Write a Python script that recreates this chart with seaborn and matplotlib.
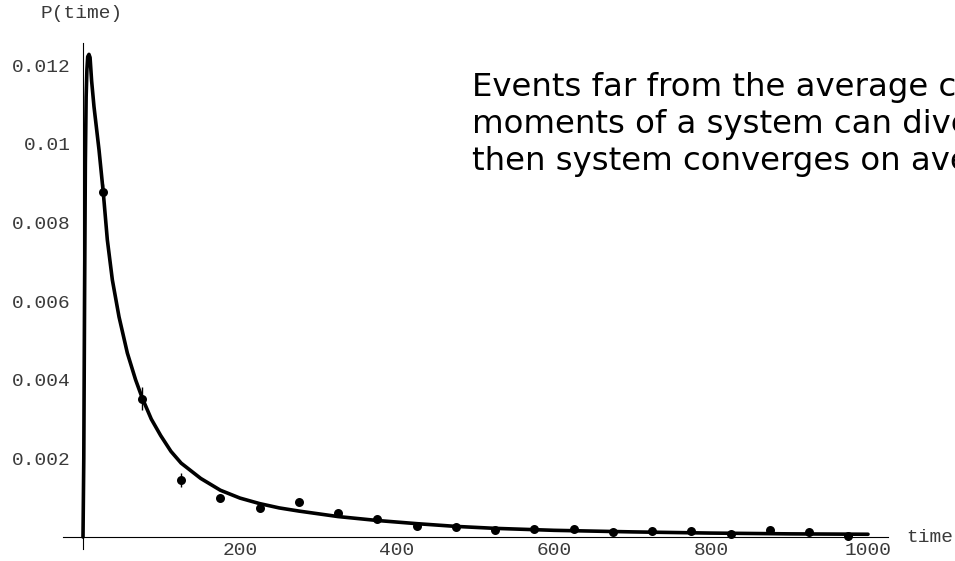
import matplotlib
matplotlib.use("Agg")
import matplotlib.pyplot as plt
import matplotlib.ticker as mticker
import seaborn as sns

# measured points (bin centres) with small error bars
bin_time = [25, 75, 125, 175, 225, 275, 325, 375, 425, 475,
            525, 575, 625, 675, 725, 775, 825, 875, 925, 975]
bin_prob = [0.00877, 0.00352, 0.00145, 0.00100, 0.00073, 0.00090, 0.00060, 0.00046, 0.00029, 0.00025,
            0.00018, 0.00020, 0.00020, 0.00013, 0.00015, 0.00015, 0.00008, 0.00018, 0.00013, 0.00003]
bin_err = [0.00020, 0.00030, 0.00018, 0.00009, 0.00008, 0.00007, 0.00006, 0.00005, 0.00004, 0.00004,
           0.00003, 0.00003, 0.00003, 0.00003, 0.00003, 0.00003, 0.00003, 0.00003, 0.00003, 0.00003]

# fitted curve
curve_time = [0, 1, 2, 3, 4, 5, 6, 7.6, 9, 11, 14, 20.4, 25.9, 31, 37.4, 45.9, 56.5, 67, 75.6,
              87, 99, 112, 125, 150, 175, 200, 225, 250, 275, 325, 375, 425, 475, 525, 600, 700,
              800, 900, 1000]
curve_prob = [0, 0.0020, 0.0060, 0.0095, 0.0112, 0.0119, 0.01222, 0.01228, 0.0122, 0.0116, 0.01095,
              0.00985, 0.00875, 0.00756, 0.00654, 0.00560, 0.00468, 0.00400, 0.00353,
              0.00300, 0.00258, 0.00218, 0.00188, 0.00149, 0.00119, 0.00099, 0.00085, 0.00074,
              0.00066, 0.00052, 0.00042, 0.00034, 0.00027, 0.00022, 0.00017, 0.00013, 0.00010,
              0.00008, 0.00007]

x_major = [200, 400, 600, 800, 1000]
x_labels = ["200", "400", "600", "800", "1000"]
y_major = [0.002, 0.004, 0.006, 0.008, 0.010, 0.012]
y_labels = ["0.002", "0.004", "0.006", "0.008", "0.01", "0.012"]

note_lines = ["Events far from the average can dominate",
              "moments of a system can diverge",
              "then system converges on average"]

sns.set_theme(style="white")
plt.rcParams["font.family"] = ["Liberation Mono", "DejaVu Sans Mono"]
tick_col = "#3a3a3a"

fig = plt.figure(figsize=(9.55, 5.61), dpi=100)
ax = fig.add_axes([0.06636, 0.0214, 0.8631, 0.902])
ax.set_xlim(-25, 1025)
ax.set_ylim(-0.000305, 0.01257)

# Mathematica style axes crossing at the origin
for side in ["top", "right"]:
    ax.spines[side].set_visible(False)
ax.spines["left"].set_position(("data", 0))
ax.spines["bottom"].set_position(("data", 0))
for side in ["left", "bottom"]:
    ax.spines[side].set_color("black")
    ax.spines[side].set_linewidth(0.8)

ax.set_xticks(x_major)
ax.set_xticklabels(x_labels)
ax.set_yticks(y_major)
ax.set_yticklabels(y_labels)
ax.xaxis.set_minor_locator(mticker.MultipleLocator(40))
ax.yaxis.set_minor_locator(mticker.MultipleLocator(0.0004))
ax.tick_params(axis="x", which="both", direction="in", colors="black", labelcolor=tick_col,
               labelsize=14, pad=3.5, width=0.8)
ax.tick_params(axis="y", which="both", direction="in", colors="black", labelcolor=tick_col,
               labelsize=14, pad=9, width=0.8)
ax.tick_params(which="major", length=5)
ax.tick_params(which="minor", length=3)
ax.grid(False)

ax.errorbar(bin_time, bin_prob, yerr=bin_err, fmt="none", ecolor="black", elinewidth=1, zorder=2)
line_ax = sns.lineplot(x=curve_time, y=curve_prob, ax=ax, color="black", linewidth=2.6, zorder=3)
line_ax.lines[-1].set_solid_joinstyle("round")
sns.scatterplot(x=bin_time, y=bin_prob, ax=ax, s=42, color="black", edgecolor="black",
                linewidth=0, zorder=4)

fig.text(40 / 955, 1 - 13 / 561, "P(time)", fontsize=14, color=tick_col, ha="left", va="center")
fig.text(906 / 955, 1 - 537 / 561, "time", fontsize=14, color=tick_col, ha="left", va="center")

# the note runs past the right edge of the slide, as in the original
for i, line in enumerate(note_lines):
    fig.text(472 / 955, 1 - (96 + 37.2 * i) / 561, line, fontsize=23.3, color="black",
             family=["DejaVu Sans"], ha="left", va="baseline")

fig.savefig("out.png", dpi=100)
